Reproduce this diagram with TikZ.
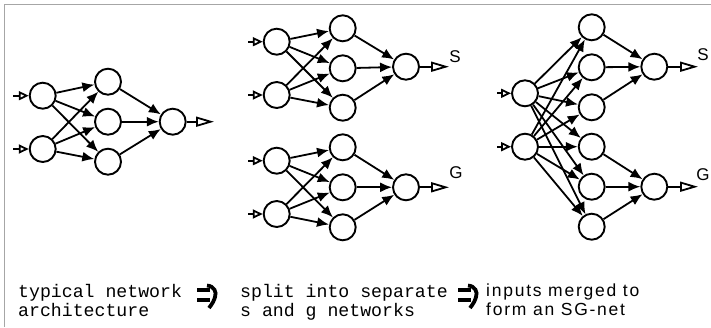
\documentclass[tikz,border=0pt]{standalone}
\usepackage{fontspec}
\newfontfamily\monof{Liberation Mono}
\newfontfamily\sansf{Liberation Sans}
\newfontfamily\sanssp[LetterSpace=10]{Liberation Sans}
\usetikzlibrary{arrows.meta}
\begin{document}
\begin{tikzpicture}[x=1pt,y=-1pt,
 neuron/.style={circle,draw,line width=1.9pt,minimum size=26pt,inner sep=0pt},
 conn/.style={line width=1.8pt,-{Latex[length=12pt,width=10pt]}},
 inarr/.style={line width=1.8pt,-{Triangle[open,length=10pt,width=9pt,line width=1.8pt]}},
 outarr/.style={line width=1.8pt,-{Triangle[open,length=18pt,width=10pt,line width=1.8pt]}},
 lbl/.style={font=\sansf\fontsize{17}{17}\selectfont,inner sep=0pt},
 mono/.style={font=\monof\fontsize{18.2}{19}\selectfont,align=left,inner sep=0pt,anchor=north west},
 sanstext/.style={font=\sanssp\fontsize{17.5}{19}\selectfont,align=left,inner sep=0pt,anchor=north west},
 bigarrow/.style={line width=3.8pt},
 frame/.style={draw=gray!70,line width=0.9pt}
]
\useasboundingbox (0,0) rectangle (711,327);
\draw[frame] (4,327) -- (4,4) -- (711,4);

% ---------- panel 1 ----------
\node[neuron] (a1) at (42.7,95.7) {};
\node[neuron] (a2) at (42.7,149) {};
\node[neuron] (ah1) at (108,81.7) {};
\node[neuron] (ah2) at (108,121.7) {};
\node[neuron] (ah3) at (108,161.7) {};
\node[neuron] (ao) at (172.7,121.7) {};
\coordinate (ai1) at (13,95.7);
\coordinate (ai2) at (13,149);
\coordinate (aout) at (214,121.7);
\draw[inarr] (ai1) -- (a1);
\draw[inarr] (ai2) -- (a2);
\foreach \i in {1,2}{\foreach \h in {1,2,3}{\draw[conn] (a\i) -- (ah\h);}}
\foreach \h in {1,2,3}{\draw[conn] (ah\h) -- (ao);}
\draw[outarr] (ao) -- (aout);

% ---------- panel 2 top ----------
\node[neuron] (b1) at (276.7,41.7) {};
\node[neuron] (b2) at (276.7,95) {};
\node[neuron] (bh1) at (342.7,28.3) {};
\node[neuron] (bh2) at (342.7,68.3) {};
\node[neuron] (bh3) at (342.7,107.7) {};
\node[neuron] (bo) at (406,66.7) {};
\coordinate (bi1) at (248,41.7);
\coordinate (bi2) at (248,95);
\coordinate (bout) at (449,66.7);
\draw[inarr] (bi1) -- (b1);
\draw[inarr] (bi2) -- (b2);
\foreach \i in {1,2}{\foreach \h in {1,2,3}{\draw[conn] (b\i) -- (bh\h);}}
\foreach \h in {1,2,3}{\draw[conn] (bh\h) -- (bo);}
\draw[outarr] (bo) -- (bout);
\node[lbl] (bs) at (455,56.7) {S};

% ---------- panel 2 bottom ----------
\node[neuron] (c1) at (276.7,160.7) {};
\node[neuron] (c2) at (276.7,214) {};
\node[neuron] (ch1) at (342.7,147.3) {};
\node[neuron] (ch2) at (342.7,187.3) {};
\node[neuron] (ch3) at (342.7,227.3) {};
\node[neuron] (co) at (406,187.3) {};
\coordinate (ci1) at (248,160.7);
\coordinate (ci2) at (248,214);
\coordinate (cout) at (449,187.3);
\draw[inarr] (ci1) -- (c1);
\draw[inarr] (ci2) -- (c2);
\foreach \i in {1,2}{\foreach \h in {1,2,3}{\draw[conn] (c\i) -- (ch\h);}}
\foreach \h in {1,2,3}{\draw[conn] (ch\h) -- (co);}
\draw[outarr] (co) -- (cout);
\node[lbl] (cg) at (456,173) {G};

% ---------- panel 3 ----------
\node[neuron] (d1) at (525,93.3) {};
\node[neuron] (d2) at (525,146.7) {};
\node[neuron] (dh1) at (591.7,27.3) {};
\node[neuron] (dh2) at (591.7,67.3) {};
\node[neuron] (dh3) at (591.7,107.3) {};
\node[neuron] (dh4) at (591.7,146.7) {};
\node[neuron] (dh5) at (591.7,186.7) {};
\node[neuron] (dh6) at (591.7,226.7) {};
\node[neuron] (ds) at (654.3,66.7) {};
\node[neuron] (dg) at (654.3,186.7) {};
\coordinate (di1) at (497,93.3);
\coordinate (di2) at (497,146.7);
\coordinate (dsout) at (698,66.7);
\coordinate (dgout) at (698,186.7);
\draw[inarr] (di1) -- (d1);
\draw[inarr] (di2) -- (d2);
\foreach \i in {1,2}{\foreach \h in {1,...,6}{\draw[conn] (d\i) -- (dh\h);}}
\foreach \h in {1,2,3}{\draw[conn] (dh\h) -- (ds);}
\foreach \h in {4,5,6}{\draw[conn] (dh\h) -- (dg);}
\draw[outarr] (ds) -- (dsout);
\draw[outarr] (dg) -- (dgout);
\node[lbl] (dsl) at (703,55) {S};
\node[lbl] (dgl) at (703,175) {G};

% ---------- captions ----------
\node[mono] (t1) at (18,284) {typical network\\architecture};
\node[mono] (t2) at (240,284) {split into separate\\s and g networks};
\node[sanstext] (t3) at (486,284) {inputs merged to\\form an SG-net};

\draw[bigarrow] (197,290) -- (210,290);
\draw[bigarrow] (197,300) -- (210,300);
\draw[bigarrow] (207,285.5) .. controls (214,286) and (217,292) .. (215,297) .. controls (214,301) and (212,304) .. (209,308);

\draw[bigarrow] (458,290) -- (471,290);
\draw[bigarrow] (458,300) -- (471,300);
\draw[bigarrow] (468,285.5) .. controls (475,286) and (478,292) .. (476,297) .. controls (475,301) and (473,304) .. (470,308);
\end{tikzpicture}
\end{document}
